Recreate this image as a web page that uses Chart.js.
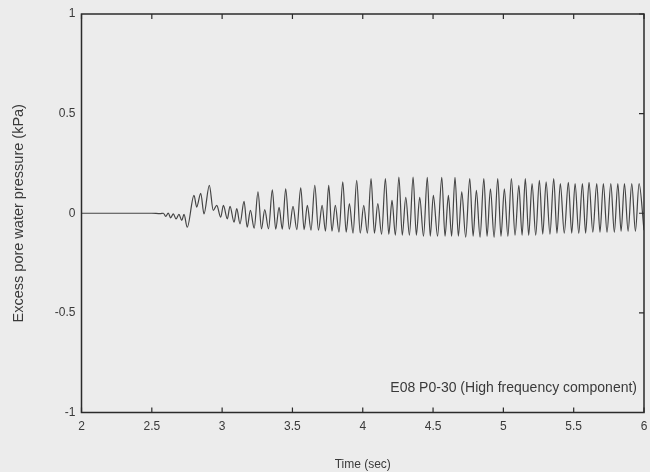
<!DOCTYPE html>
<html>
<head>
<meta charset="utf-8">
<script src="https://cdn.jsdelivr.net/npm/chart.js@4.4.1/dist/chart.umd.min.js"></script>
<style>
  html, body { margin: 0; padding: 0; background: #ececec; }
  #wrap { width: 650px; height: 472px; position: relative; }
</style>
</head>
<body>
<div id="wrap"><canvas id="c" width="650" height="472"></canvas></div>
<script>
// ---- data ----
const xTicks = [2, 2.5, 3, 3.5, 4, 4.5, 5, 5.5, 6];
const yTicks = [-1, -0.5, 0, 0.5, 1];
const xTitle = 'Time (sec)';
const yTitle = 'Excess pore water pressure (kPa)';
const note = 'E08 P0-30 (High frequency component)';

const times = [
  2.00, 2.30, 2.50, 2.56, 2.582, 2.599, 2.617, 2.634, 2.653, 2.672, 2.693, 2.713, 2.729, 2.752,
  2.800, 2.819, 2.848, 2.871, 2.909, 2.937, 2.962, 2.990, 3.009, 3.037, 3.056, 3.085, 3.104, 3.127,
  3.156, 3.178, 3.201, 3.228, 3.255, 3.280, 3.303, 3.330, 3.357, 3.381, 3.405, 3.428, 3.452, 3.478,
  3.504, 3.531, 3.559, 3.583, 3.606, 3.632, 3.659, 3.685, 3.711, 3.735, 3.758, 3.781, 3.805, 3.831,
  3.858, 3.882, 3.905, 3.931, 3.957, 3.982, 4.007, 4.033, 4.059, 4.083, 4.107, 4.134, 4.161, 4.185,
  4.208, 4.232, 4.257, 4.281, 4.306, 4.332, 4.358, 4.381, 4.405, 4.432, 4.459, 4.480, 4.502, 4.532,
  4.562, 4.585, 4.609, 4.632, 4.656, 4.680, 4.704, 4.732, 4.761, 4.785, 4.808, 4.834, 4.861, 4.884,
  4.908, 4.934, 4.960, 4.983, 5.007, 5.032, 5.057, 5.083, 5.110, 5.133, 5.156, 5.180, 5.204, 5.230,
  5.256, 5.280, 5.304, 5.331, 5.358, 5.381, 5.405, 5.433, 5.462, 5.486, 5.510, 5.536, 5.562, 5.585,
  5.609, 5.636, 5.664, 5.687, 5.711, 5.737, 5.764, 5.789, 5.814, 5.837, 5.861, 5.887, 5.913, 5.939,
  5.965, 6.000
];
const pressure = [
  0, 0, 0, -0.002, 0, -0.016, 0.001, -0.023, -0.003, -0.028, -0.006, -0.036, -0.006, -0.070,
  0.090, 0.031, 0.100, -0.003, 0.140, 0.014, 0.040, -0.020, 0.040, -0.028, 0.035, -0.045, 0.023, -0.053,
  0.060, -0.070, 0.014, -0.075, 0.107, -0.078, 0.018, -0.078, 0.118, -0.080, 0.030, -0.080, 0.123, -0.080,
  0.035, -0.082, 0.128, -0.082, 0.040, -0.085, 0.140, -0.085, 0.040, -0.090, 0.140, -0.090, 0.040, -0.095,
  0.157, -0.095, 0.048, -0.100, 0.165, -0.100, 0.040, -0.100, 0.174, -0.100, 0.048, -0.105, 0.174, -0.105,
  0.065, -0.110, 0.182, -0.110, 0.080, -0.110, 0.182, -0.110, 0.080, -0.115, 0.180, -0.115, 0.090, -0.115,
  0.180, -0.115, 0.090, -0.115, 0.180, -0.115, 0.107, -0.120, 0.174, -0.115, 0.115, -0.120, 0.174, -0.115,
  0.123, -0.120, 0.174, -0.115, 0.123, -0.115, 0.174, -0.110, 0.140, -0.110, 0.174, -0.110, 0.149, -0.110,
  0.165, -0.105, 0.157, -0.105, 0.174, -0.100, 0.149, -0.100, 0.155, -0.100, 0.149, -0.100, 0.149, -0.100,
  0.155, -0.095, 0.149, -0.095, 0.149, -0.095, 0.149, -0.095, 0.149, -0.090, 0.149, -0.090, 0.149, -0.090,
  0.149, -0.085
];

const points = times.map((t, i) => ({ x: t, y: pressure[i] }));
const FONT = "'Liberation Sans', Arial, Helvetica, sans-serif";
const TXT = '#3a3a3a';

const framePlugin = {
  id: 'frame',
  beforeDraw(chart) {
    const ctx = chart.ctx;
    ctx.save();
    ctx.fillStyle = '#ececec';
    ctx.fillRect(0, 0, chart.width, chart.height);
    ctx.restore();
  },
  afterDatasetsDraw(chart) {
    const { ctx, chartArea: a, scales } = chart;
    ctx.save();
    ctx.strokeStyle = '#2b2b2b';
    ctx.lineWidth = 1.5;
    ctx.strokeRect(a.left, a.top, a.right - a.left, a.bottom - a.top);
    ctx.lineWidth = 1.2;
    ctx.beginPath();
    const tl = 5;
    xTicks.forEach(v => {
      const px = scales.x.getPixelForValue(v);
      ctx.moveTo(px, a.bottom); ctx.lineTo(px, a.bottom - tl);
      ctx.moveTo(px, a.top); ctx.lineTo(px, a.top + tl);
    });
    yTicks.forEach(v => {
      const py = scales.y.getPixelForValue(v);
      ctx.moveTo(a.right, py); ctx.lineTo(a.right - tl, py);
    });
    ctx.stroke();
    ctx.fillStyle = TXT;
    ctx.font = '14px ' + FONT;
    ctx.textAlign = 'right';
    ctx.textBaseline = 'middle';
    ctx.fillText(note, a.right - 7, scales.y.getPixelForValue(-0.88));
    ctx.restore();
  }
};

new Chart(document.getElementById('c'), {
  type: 'line',
  data: {
    datasets: [{
      data: points,
      borderColor: '#444444',
      borderWidth: 1.2,
      pointRadius: 0,
      fill: false,
      cubicInterpolationMode: 'monotone'
    }]
  },
  options: {
    responsive: false,
    animation: false,
    devicePixelRatio: 1,
    layout: { padding: { top: 14, right: 6, bottom: 0, left: 0 } },
    plugins: { legend: { display: false }, tooltip: { enabled: false } },
    scales: {
      x: {
        type: 'linear', min: 2, max: 6,
        afterBuildTicks: s => { s.ticks = xTicks.map(v => ({ value: v })); },
        afterFit: s => { s.height = 59.5; s.paddingLeft = 0; s.paddingRight = 0; },
        grid: { display: false, drawTicks: false },
        border: { display: false },
        ticks: { padding: 7, color: TXT, font: { family: FONT, size: 12 }, callback: v => String(v), maxRotation: 0 },
        title: { display: true, text: xTitle, color: TXT, font: { family: FONT, size: 12 }, padding: { top: 0, bottom: 0 } }
      },
      y: {
        type: 'linear', min: -1, max: 1,
        afterBuildTicks: s => { s.ticks = yTicks.map(v => ({ value: v })); },
        afterFit: s => { s.width = 81.5; s.paddingTop = 0; s.paddingBottom = 0; },
        grid: { display: false, drawTicks: false },
        border: { display: false },
        ticks: { padding: 6, color: TXT, font: { family: FONT, size: 12 }, callback: v => String(v) },
        title: { display: true, text: yTitle, color: TXT, font: { family: FONT, size: 14.5 }, padding: { top: 10, bottom: 0 } }
      }
    }
  },
  plugins: [framePlugin]
});
</script>
</body>
</html>
